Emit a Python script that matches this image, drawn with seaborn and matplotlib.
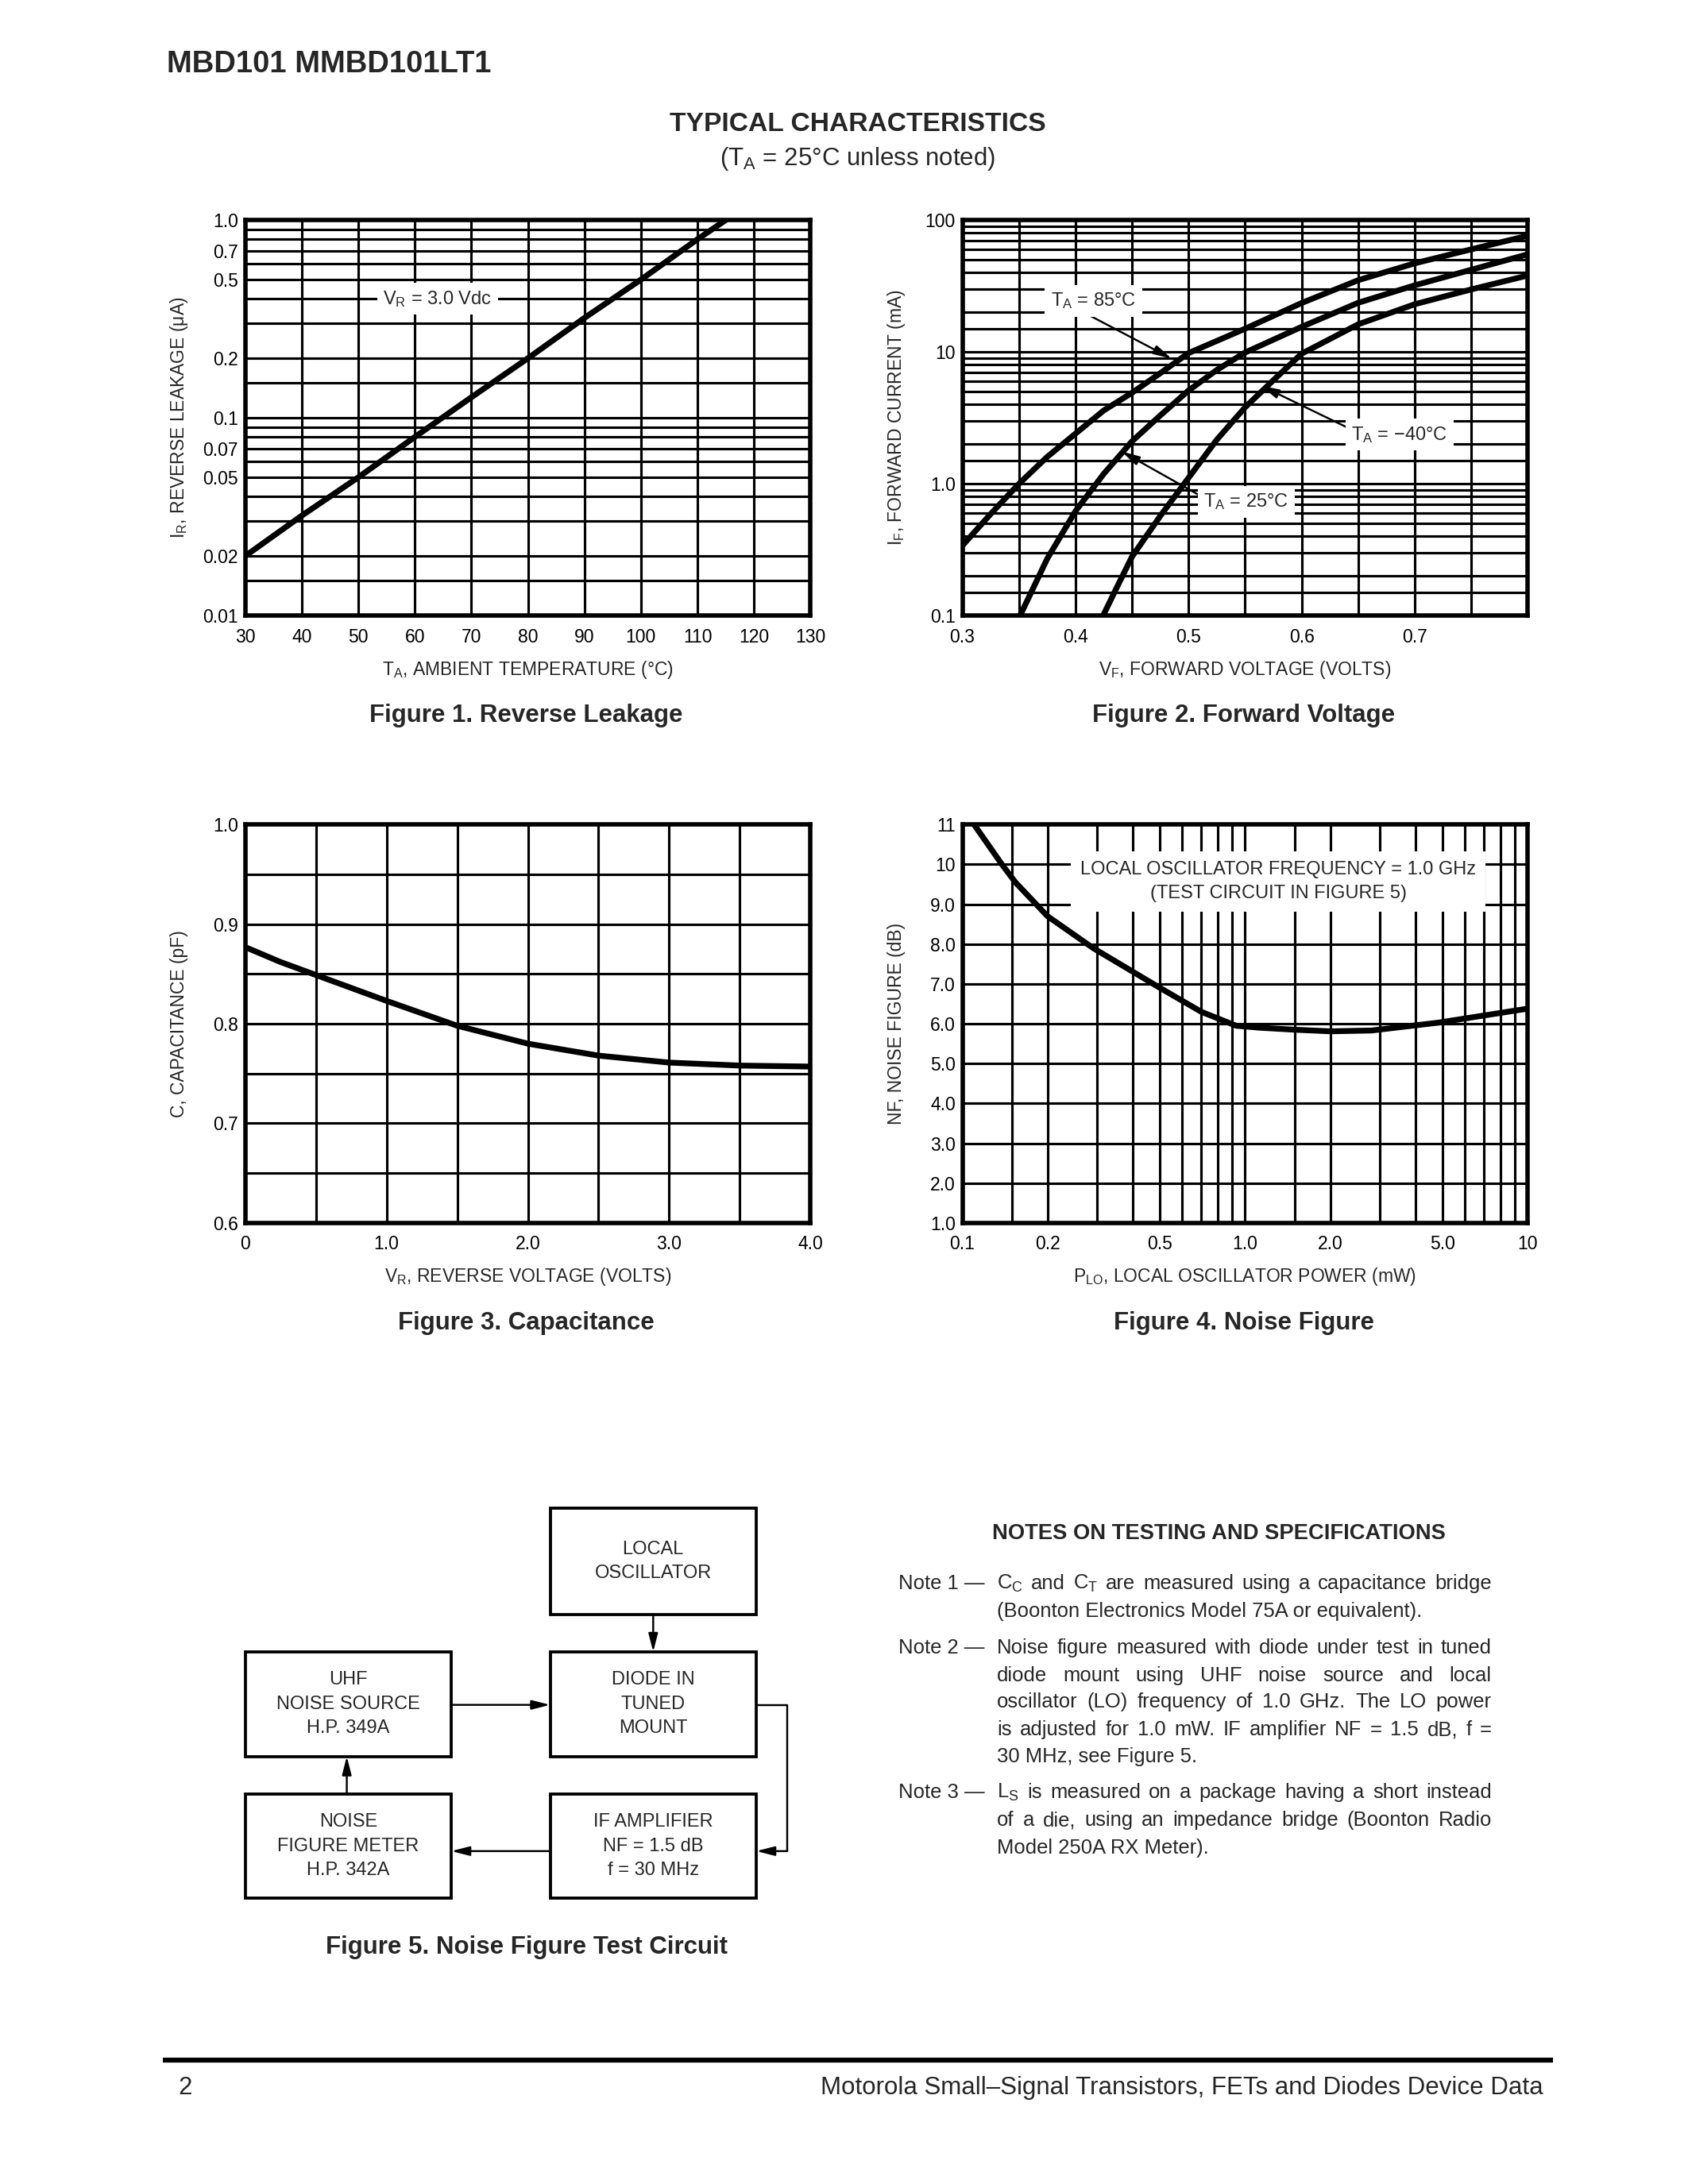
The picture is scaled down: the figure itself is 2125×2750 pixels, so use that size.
import pandas as pd
import matplotlib
matplotlib.use("Agg")
import matplotlib.pyplot as plt
import seaborn as sns
from matplotlib.patches import Rectangle
from matplotlib.ticker import NullFormatter

# Figure 1 - reverse leakage vs temperature
temp_c = [30, 40, 50, 60, 70, 80, 90, 100, 110, 115]
leak_ua = [0.020, 0.032, 0.050, 0.080, 0.127, 0.20, 0.32, 0.50, 0.80, 1.0]

# Figure 2 - forward current vs forward voltage
vf_85 = [0.30, 0.325, 0.35, 0.375, 0.40, 0.425, 0.45, 0.475, 0.50, 0.55, 0.60, 0.65, 0.70, 0.75, 0.80]
if_85 = [0.34, 0.59, 1.0, 1.6, 2.4, 3.6, 4.9, 6.9, 9.8, 15.0, 23.5, 35.0, 47.0, 60.0, 76.0]
vf_25 = [0.351, 0.375, 0.40, 0.425, 0.45, 0.475, 0.50, 0.525, 0.55, 0.60, 0.65, 0.70, 0.75, 0.80]
if_25 = [0.10, 0.27, 0.62, 1.19, 2.1, 3.3, 5.1, 7.3, 9.9, 15.5, 23.6, 32.0, 42.0, 55.0]
vf_m40 = [0.4244, 0.4375, 0.45, 0.475, 0.50, 0.525, 0.55, 0.575, 0.60, 0.65, 0.70, 0.75, 0.80]
if_m40 = [0.10, 0.17, 0.28, 0.57, 1.11, 2.16, 3.8, 6.1, 9.7, 16.2, 23.0, 29.8, 38.0]

# Figure 3 - capacitance vs reverse voltage
vr = [0, 0.25, 0.5, 1.0, 1.5, 2.0, 2.5, 3.0, 3.5, 4.0]
cap_pf = [0.877, 0.862, 0.849, 0.823, 0.798, 0.780, 0.768, 0.761, 0.758, 0.757]

# Figure 4 - noise figure vs LO power
plo_mw = [0.11, 0.138, 0.154, 0.20, 0.29, 0.50, 0.70, 0.93, 1.13, 1.5, 2.0, 2.8, 4.85, 10.0]
nf_db = [11.0, 10.0, 9.55, 8.7, 7.9, 6.9, 6.3, 5.95, 5.9, 5.85, 5.81, 5.83, 6.03, 6.38]

# grid paper lines
grid1_x = list(range(30, 131, 10))
grid1_y = [0.01, 0.015, 0.02, 0.03, 0.04, 0.05, 0.06, 0.07, 0.08, 0.09,
           0.1, 0.15, 0.2, 0.3, 0.4, 0.5, 0.6, 0.7, 0.8, 0.9, 1.0]
grid2_x = [0.30, 0.35, 0.40, 0.45, 0.50, 0.55, 0.60, 0.65, 0.70, 0.75, 0.80]
grid2_y = [d * m for d in (0.1, 1, 10) for m in (1, 1.5, 2, 3, 4, 5, 6, 7, 8, 9)] + [100]
grid3_x = [0, 0.5, 1.0, 1.5, 2.0, 2.5, 3.0, 3.5, 4.0]
grid3_y = [0.6, 0.65, 0.7, 0.75, 0.8, 0.85, 0.9, 0.95, 1.0]
grid4_x = [d * m for d in (0.1, 1) for m in (1, 1.5, 2, 3, 4, 5, 6, 7, 8, 9)] + [10]
grid4_y = list(range(1, 12))

sns.set_style("white")
FONT = "Liberation Sans"
plt.rcParams["font.family"] = [FONT, "DejaVu Sans"]
plt.rcParams["mathtext.fontset"] = "custom"
plt.rcParams["mathtext.rm"] = FONT
plt.rcParams["mathtext.it"] = FONT + ":italic"
plt.rcParams["mathtext.bf"] = FONT + ":bold"

fig = plt.figure(figsize=(8.5, 11), dpi=250)
W, H = 1212, 1568

page = fig.add_axes([0, 0, 1, 1])
page.set_xlim(0, W)
page.set_ylim(H, 0)
page.axis("off")


def place(l, t, r, b):
    return fig.add_axes([l / W, 1 - b / H, (r - l) / W, (b - t) / H])


def finish(ax, xgrid, ygrid, xt, xl, yt, yl, xlab, ylab, xlab_y):
    ax.set_xticks(xt, labels=xl)
    ax.set_yticks(yt, labels=yl)
    ax.set_xticks(xgrid, minor=True)
    ax.set_yticks(ygrid, minor=True)
    ax.xaxis.set_minor_formatter(NullFormatter())
    ax.yaxis.set_minor_formatter(NullFormatter())
    ax.grid(which="both", color="black", lw=0.9)
    ax.set_axisbelow(True)
    ax.tick_params(which="both", length=0, labelsize=6.6, colors="black")
    ax.tick_params(axis="x", pad=4.5)
    ax.tick_params(axis="y", pad=2.5)
    for sp in ax.spines.values():
        sp.set_visible(True)
        sp.set_color("black")
        sp.set_linewidth(1.6)
    ax.set_xlabel(xlab, fontsize=6.6)
    ax.set_ylabel(ylab, fontsize=6.6)
    ax.xaxis.set_label_coords(0.5, -xlab_y)
    ax.xaxis.label.set_va("baseline")
    ax.yaxis.set_label_coords(-0.108, 0.5)
    ax.yaxis.label.set_va("baseline")


arrow = dict(arrowstyle="-|>,head_length=0.55,head_width=0.14", color="black",
             lw=0.7, mutation_scale=10, shrinkA=0, shrinkB=0)
white = dict(fc="white", ec="none", pad=2.2)

# ---------- Figure 1
ax1 = place(176, 158, 582, 442)
sns.lineplot(x=temp_c, y=leak_ua, ax=ax1, color="black", lw=2.1)
ax1.set_yscale("log")
ax1.set_xlim(30, 130)
ax1.set_ylim(0.01, 1.0)
finish(ax1, grid1_x, grid1_y, grid1_x, [str(v) for v in grid1_x],
       [1.0, 0.7, 0.5, 0.2, 0.1, 0.07, 0.05, 0.02, 0.01],
       ["1.0", "0.7", "0.5", "0.2", "0.1", "0.07", "0.05", "0.02", "0.01"],
       "T$_\\mathrm{A}$, AMBIENT TEMPERATURE (°C)", "I$_\\mathrm{R}$, REVERSE LEAKAGE (μA)", 0.151)
ax1.text(64, 0.4, "V$_\\mathrm{R}$ = 3.0 Vdc", ha="center", va="center", fontsize=6.8, bbox=white)

# ---------- Figure 2
ax2 = place(691, 158, 1097, 442)
fwd = pd.concat([
    pd.DataFrame({"vf": vf_85, "i": if_85, "t": "85"}),
    pd.DataFrame({"vf": vf_25, "i": if_25, "t": "25"}),
    pd.DataFrame({"vf": vf_m40, "i": if_m40, "t": "-40"}),
])
sns.lineplot(data=fwd, x="vf", y="i", hue="t", palette=["black"] * 3, estimator=None,
             legend=False, lw=2.1, ax=ax2)
ax2.set_yscale("log")
ax2.set_xlim(0.3, 0.8)
ax2.set_ylim(0.1, 100)
finish(ax2, grid2_x, grid2_y, [0.3, 0.4, 0.5, 0.6, 0.7], ["0.3", "0.4", "0.5", "0.6", "0.7"],
       [0.1, 1, 10, 100], ["0.1", "1.0", "10", "100"],
       "V$_\\mathrm{F}$, FORWARD VOLTAGE (VOLTS)", "I$_\\mathrm{F}$, FORWARD CURRENT (mA)", 0.151)
ax2.annotate("", xy=(0.485, 8.9), xytext=(0.414, 18.6), arrowprops=arrow)
ax2.annotate("", xy=(0.564, 5.55), xytext=(0.642, 2.63), arrowprops=arrow)
ax2.annotate("", xy=(0.4407, 1.76), xytext=(0.5116, 0.80), arrowprops=arrow)
ax2.text(0.4158, 24.4, "T$_\\mathrm{A}$ = 85°C", ha="center", va="center", fontsize=6.8, bbox=white)
ax2.text(0.6866, 2.36, "T$_\\mathrm{A}$ = −40°C", ha="center", va="center", fontsize=6.8, bbox=white)
ax2.text(0.551, 0.73, "T$_\\mathrm{A}$ = 25°C", ha="center", va="center", fontsize=6.8, bbox=white)

# ---------- Figure 3
ax3 = place(176, 592, 582, 878)
sns.lineplot(x=vr, y=cap_pf, ax=ax3, color="black", lw=2.1)
ax3.set_xlim(0, 4.0)
ax3.set_ylim(0.6, 1.0)
finish(ax3, grid3_x, grid3_y, [0, 1, 2, 3, 4], ["0", "1.0", "2.0", "3.0", "4.0"],
       [0.6, 0.7, 0.8, 0.9, 1.0], ["0.6", "0.7", "0.8", "0.9", "1.0"],
       "V$_\\mathrm{R}$, REVERSE VOLTAGE (VOLTS)", "C, CAPACITANCE (pF)", 0.147)

# ---------- Figure 4
ax4 = place(691, 592, 1097, 878)
sns.lineplot(x=plo_mw, y=nf_db, ax=ax4, color="black", lw=2.1)
ax4.set_xscale("log")
ax4.set_xlim(0.1, 10)
ax4.set_ylim(1, 11)
finish(ax4, grid4_x, grid4_y, [0.1, 0.2, 0.5, 1, 2, 5, 10],
       ["0.1", "0.2", "0.5", "1.0", "2.0", "5.0", "10"],
       grid4_y, ["1.0", "2.0", "3.0", "4.0", "5.0", "6.0", "7.0", "8.0", "9.0", "10", "11"],
       "P$_\\mathrm{LO}$, LOCAL OSCILLATOR POWER (mW)", "NF, NOISE FIGURE (dB)", 0.147)
ax4.text(1.31, 9.57, "LOCAL OSCILLATOR FREQUENCY = 1.0 GHz\n(TEST CIRCUIT IN FIGURE 5)",
         ha="center", va="center", multialignment="center", fontsize=6.8, linespacing=1.45,
         bbox=dict(fc="white", ec="none", pad=3.5))

# ---------- page text
page.text(120, 46, "MBD101 MMBD101LT1", fontsize=11, fontweight="bold", ha="left", va="center")
page.text(616, 89, "TYPICAL CHARACTERISTICS", fontsize=9.7, fontweight="bold", ha="center", va="center")
page.text(616, 114, "(T$_\\mathrm{A}$ = 25°C unless noted)", fontsize=9, ha="center", va="center")
captions = [(378, 514, "Figure 1. Reverse Leakage"), (893, 514, "Figure 2. Forward Voltage"),
            (378, 950, "Figure 3. Capacitance"), (893, 950, "Figure 4. Noise Figure"),
            (378, 1398, "Figure 5. Noise Figure Test Circuit")]
for x, y, s in captions:
    page.text(x, y, s, fontsize=9, fontweight="bold", ha="center", va="center")

# ---------- Figure 5 block diagram
blocks = [((395, 1083, 543, 1159), "LOCAL\nOSCILLATOR"),
          ((176, 1186, 324, 1261), "UHF\nNOISE SOURCE\nH.P. 349A"),
          ((395, 1186, 543, 1261), "DIODE IN\nTUNED\nMOUNT"),
          ((176, 1288, 324, 1363), "NOISE\nFIGURE METER\nH.P. 342A"),
          ((395, 1288, 543, 1363), "IF AMPLIFIER\nNF = 1.5 dB\nf = 30 MHz")]
for (l, t, r, b), s in blocks:
    page.add_patch(Rectangle((l, t), r - l, b - t, fill=False, ec="black", lw=1.1))
    page.text((l + r) / 2, (t + b) / 2, s, ha="center", va="center", fontsize=6.8, linespacing=1.5)
page.annotate("", xy=(469, 1186), xytext=(469, 1159), arrowprops=arrow)
page.annotate("", xy=(395, 1224), xytext=(324, 1224), arrowprops=arrow)
page.plot([543, 565, 565], [1224, 1224, 1329], color="black", lw=0.7)
page.annotate("", xy=(543, 1329), xytext=(565, 1329), arrowprops=arrow)
page.annotate("", xy=(324, 1329), xytext=(395, 1329), arrowprops=arrow)
page.annotate("", xy=(249, 1261), xytext=(249, 1288), arrowprops=arrow)

# ---------- notes
page.text(875, 1101, "NOTES ON TESTING AND SPECIFICATIONS", fontsize=7.9, fontweight="bold",
          ha="center", va="center")
renderer = fig.canvas.get_renderer()
to_page = W / fig.bbox.width
NSZ = 7.4


def width_of(s):
    t = page.text(0, 0, s, fontsize=NSZ)
    w = t.get_window_extent(renderer).width * to_page
    t.remove()
    return w


def line(s, y, x0=716, x1=1071, justify=True):
    words = s.split(" ")
    if not justify or len(words) < 2:
        page.text(x0, y, s, fontsize=NSZ, ha="left", va="baseline")
        return
    ws = [width_of(w) for w in words]
    gap = max((x1 - x0 - sum(ws)) / (len(words) - 1), 2.0)
    x = x0
    for w, wd in zip(words, ws):
        page.text(x, y, w, fontsize=NSZ, ha="left", va="baseline")
        x += wd + gap


note_lines = [
    ("Note 1 —", "C$_\\mathrm{C}$ and C$_\\mathrm{T}$ are measured using a capacitance bridge", True),
    (None, "(Boonton Electronics Model 75A or equivalent).", False),
    ("Note 2 —", "Noise figure measured with diode under test in tuned", True),
    (None, "diode mount using UHF noise source and local", True),
    (None, "oscillator (LO) frequency of 1.0 GHz. The LO power", True),
    (None, "is adjusted for 1.0 mW. IF amplifier NF = 1.5 dB, f =", True),
    (None, "30 MHz, see Figure 5.", False),
    ("Note 3 —", "L$_\\mathrm{S}$ is measured on a package having a short instead", True),
    (None, "of a die, using an impedance bridge (Boonton Radio", True),
    (None, "Model 250A RX Meter).", False),
]
note_y = [1141, 1161, 1187, 1207, 1226, 1246, 1265, 1291, 1311, 1331]
for (pre, body, just), y in zip(note_lines, note_y):
    if pre:
        page.text(645, y, pre, fontsize=NSZ, ha="left", va="baseline")
    line(body, y, justify=just)

# ---------- footer
page.plot([117, 1115], [1479, 1479], color="black", lw=1.8, solid_capstyle="butt")
page.text(128, 1499, "2", fontsize=9, ha="left", va="center")
page.text(1108, 1499, "Motorola Small–Signal Transistors, FETs and Diodes Device Data",
          fontsize=9, ha="right", va="center")

fig.savefig("out.png", dpi=250, facecolor="white")
